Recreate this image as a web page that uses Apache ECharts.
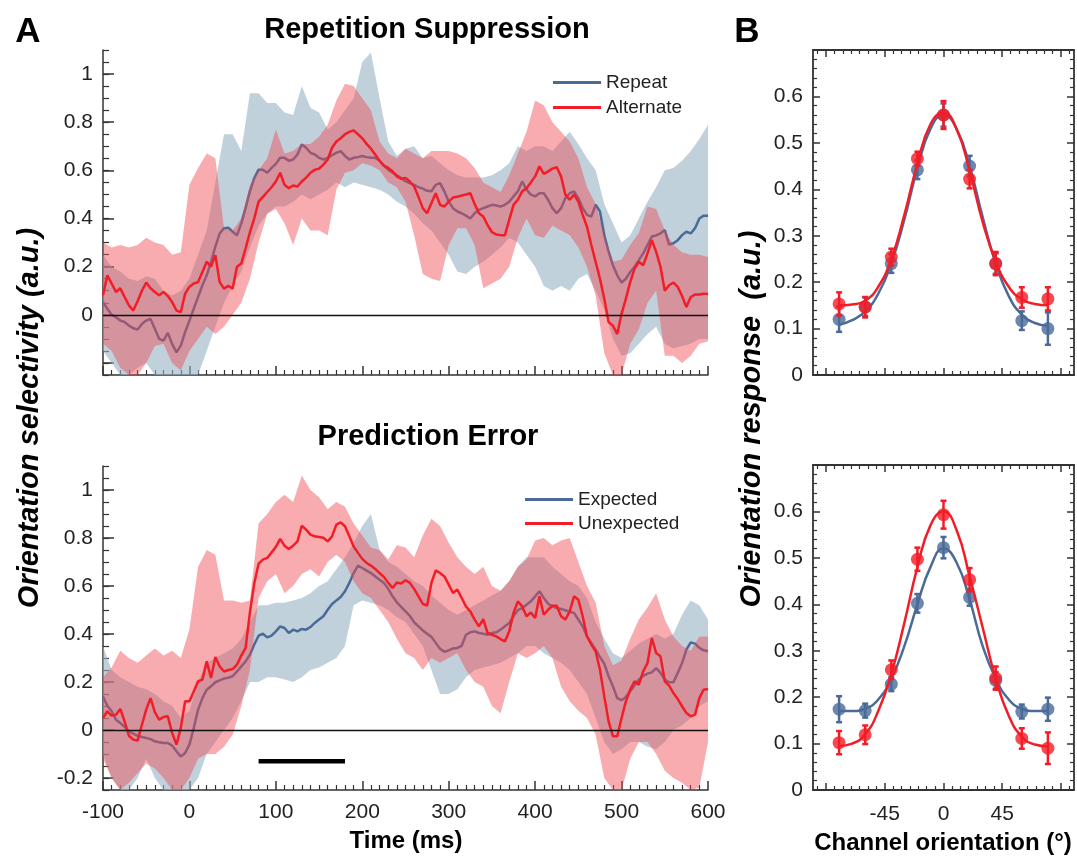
<!DOCTYPE html>
<html>
<head>
<meta charset="utf-8">
<title>Orientation selectivity</title>
<script src="https://cdn.jsdelivr.net/npm/echarts@6.0.0/dist/echarts.min.js"></script>
<style>
  html, body { margin: 0; padding: 0; background: #fff; }
  #chart { width: 1077px; height: 857px; }
</style>
</head>
<body>
<div id="chart"></div>
<script>
// ---------- panel A: time courses ----------
const lineTimes = [];
for (let t = -100; t <= 600; t += 5) lineTimes.push(t);
const bandTimes = [];
for (let t = -100; t <= 600; t += 10) bandTimes.push(t);

const repeatMean = [
  0.053, 0.025, 0.0, -0.01, -0.024, -0.03, -0.045, -0.056, -0.061, -0.038,
  -0.024, -0.017, -0.058, -0.10, -0.107, -0.075, -0.121, -0.156, -0.128, -0.072,
  -0.024, 0.025, 0.074, 0.123, 0.164, 0.22, 0.283, 0.338, 0.36, 0.362,
  0.345, 0.33, 0.38, 0.443, 0.513, 0.568, 0.603, 0.603, 0.59, 0.61,
  0.627, 0.652, 0.652, 0.64, 0.645, 0.666, 0.708, 0.694, 0.673, 0.666,
  0.652, 0.645, 0.652, 0.663, 0.673, 0.68, 0.66, 0.645, 0.652, 0.655,
  0.66, 0.655, 0.652, 0.652, 0.64, 0.62, 0.603, 0.59, 0.58, 0.568,
  0.554, 0.547, 0.54, 0.53, 0.524, 0.515, 0.513, 0.54, 0.547, 0.513,
  0.47, 0.443, 0.429, 0.422, 0.412, 0.40, 0.422, 0.436, 0.443, 0.45,
  0.457, 0.454, 0.45, 0.457, 0.47, 0.492, 0.513, 0.554, 0.52, 0.499,
  0.492, 0.505, 0.505, 0.478, 0.443, 0.422, 0.443, 0.485, 0.505, 0.513,
  0.485, 0.443, 0.415, 0.408, 0.457, 0.429, 0.331, 0.262, 0.206, 0.164,
  0.134, 0.15, 0.178, 0.20, 0.227, 0.255, 0.29, 0.325, 0.33, 0.338,
  0.352, 0.292, 0.297, 0.31, 0.331, 0.345, 0.338, 0.36, 0.40, 0.412,
  0.412
];
const alternateMean = [
  0.081, 0.164, 0.13, 0.095, 0.11, 0.074, 0.039, 0.018, 0.056, 0.10,
  0.134, 0.11, 0.095, 0.081, 0.095, 0.078, 0.053, 0.018, 0.011, 0.088,
  0.116, 0.13, 0.136, 0.178, 0.22, 0.20, 0.248, 0.136, 0.109, 0.12,
  0.109, 0.20, 0.213, 0.276, 0.343, 0.40, 0.47, 0.49, 0.51, 0.53,
  0.554, 0.59, 0.54, 0.526, 0.537, 0.533, 0.554, 0.57, 0.59, 0.603,
  0.607, 0.624, 0.645, 0.694, 0.72, 0.733, 0.75, 0.76, 0.766, 0.75,
  0.733, 0.71, 0.69, 0.666, 0.64, 0.62, 0.61, 0.596, 0.575, 0.565,
  0.568, 0.554, 0.533, 0.49, 0.443, 0.422, 0.464, 0.505, 0.457, 0.45,
  0.47, 0.487, 0.49, 0.496, 0.50, 0.505, 0.46, 0.422, 0.408, 0.373,
  0.343, 0.334, 0.331, 0.331, 0.394, 0.457, 0.478, 0.513, 0.526, 0.55,
  0.575, 0.617, 0.585, 0.596, 0.607, 0.613, 0.575, 0.499, 0.478, 0.499,
  0.47, 0.415, 0.366, 0.29, 0.22, 0.15, 0.067, -0.03, -0.045, -0.08,
  0.004, 0.067, 0.136, 0.192, 0.22, 0.206, 0.255, 0.31, 0.262, 0.20,
  0.10, 0.123, 0.134, 0.116, 0.078, 0.032, 0.074, 0.084, 0.084, 0.088,
  0.086
];
const expectedMean = [
  0.14, 0.101, 0.078, 0.043, 0.029, 0.013, -0.006, -0.015, -0.024, -0.029,
  -0.033, -0.038, -0.047, -0.051, -0.054, -0.054, -0.065, -0.089, -0.11, -0.096,
  -0.061, 0.008, 0.085, 0.133, 0.168, 0.182, 0.199, 0.207, 0.214, 0.218,
  0.224, 0.244, 0.265, 0.286, 0.314, 0.356, 0.393, 0.401, 0.386, 0.393,
  0.411, 0.432, 0.425, 0.404, 0.418, 0.411, 0.421, 0.418, 0.429, 0.446,
  0.46, 0.474, 0.501, 0.525, 0.54, 0.554, 0.578, 0.613, 0.654, 0.685,
  0.675, 0.664, 0.654, 0.64, 0.626, 0.613, 0.588, 0.557, 0.532, 0.513,
  0.494, 0.476, 0.449, 0.432, 0.415, 0.401, 0.388, 0.363, 0.338, 0.326,
  0.332, 0.34, 0.342, 0.351, 0.397, 0.407, 0.411, 0.404, 0.401, 0.397,
  0.404, 0.407, 0.418, 0.432, 0.446, 0.474, 0.499, 0.508, 0.522, 0.536,
  0.557, 0.578, 0.55, 0.526, 0.515, 0.508, 0.504, 0.499, 0.492, 0.488,
  0.46, 0.432, 0.39, 0.363, 0.335, 0.304, 0.276, 0.224, 0.182, 0.133,
  0.124, 0.138, 0.161, 0.185, 0.21, 0.226, 0.235, 0.24, 0.258, 0.238,
  0.21, 0.199, 0.199, 0.238, 0.279, 0.335, 0.365, 0.36, 0.342, 0.332,
  0.328
];
const unexpectedMean = [
  0.05, 0.078, 0.06, 0.064, 0.088, 0.036, -0.024, -0.04, -0.044, 0.022,
  0.085, 0.133, 0.074, 0.043, 0.054, 0.057, -0.012, -0.061, 0.008, 0.12,
  0.12, 0.16, 0.203, 0.21, 0.286, 0.217, 0.304, 0.265, 0.244, 0.25,
  0.254, 0.272, 0.31, 0.342, 0.49, 0.61, 0.693, 0.71, 0.717, 0.74,
  0.763, 0.796, 0.768, 0.754, 0.768, 0.786, 0.851, 0.835, 0.814, 0.807,
  0.804, 0.801, 0.786, 0.807, 0.856, 0.865, 0.849, 0.807, 0.765, 0.738,
  0.713, 0.696, 0.685, 0.671, 0.654, 0.638, 0.613, 0.592, 0.615, 0.61,
  0.624, 0.613, 0.588, 0.557, 0.526, 0.518, 0.613, 0.665, 0.654, 0.64,
  0.606, 0.571, 0.585, 0.55, 0.515, 0.494, 0.46, 0.432, 0.462, 0.404,
  0.397, 0.39, 0.379, 0.369, 0.411, 0.488, 0.536, 0.515, 0.474, 0.49,
  0.467, 0.557, 0.48, 0.501, 0.518, 0.518, 0.474, 0.46, 0.494, 0.557,
  0.543, 0.474, 0.39, 0.356, 0.328, 0.251, 0.14, 0.036, -0.026, -0.026,
  0.05, 0.12, 0.168, 0.203, 0.189, 0.244, 0.279, 0.383, 0.321, 0.307,
  0.203, 0.185, 0.154, 0.129, 0.099, 0.071, 0.057, 0.064, 0.133, 0.168,
  0.171
];

// error bands (10 ms steps)
const repeatUpper = [
  0.25, 0.2, 0.18, 0.15, 0.14, 0.16, 0.15, 0.1, 0.08, 0.1,
  0.15, 0.25, 0.35, 0.55, 0.75, 0.75, 0.68, 0.92, 0.92, 0.88,
  0.88, 0.84, 0.83, 0.95, 0.86, 0.84, 0.77, 0.8, 0.85, 0.9,
  1.05, 1.09, 0.9, 0.72, 0.66, 0.69, 0.7, 0.65, 0.66, 0.63,
  0.6, 0.58, 0.57, 0.57, 0.57, 0.58, 0.6, 0.63, 0.7, 0.68,
  0.7, 0.7, 0.68, 0.72, 0.76, 0.71, 0.65, 0.6, 0.46, 0.38,
  0.3, 0.33, 0.4, 0.47, 0.53, 0.6, 0.61, 0.64, 0.68, 0.73,
  0.79
];
const repeatLower = [
  -0.15, -0.2, -0.25, -0.25, -0.22, -0.2, -0.25, -0.25, -0.25, -0.25,
  -0.25, -0.25, -0.15, -0.05, 0.05, 0.12, 0.18, 0.28, 0.37, 0.42,
  0.45, 0.45, 0.47, 0.5, 0.48, 0.5, 0.52, 0.55, 0.53, 0.55,
  0.54, 0.53, 0.52, 0.5, 0.47, 0.45, 0.42, 0.38, 0.35, 0.3,
  0.25, 0.18, 0.17, 0.2, 0.22, 0.25, 0.28, 0.32, 0.3, 0.25,
  0.2, 0.12, 0.1, 0.12, 0.1, 0.15, 0.17, 0.1, 0.02, -0.1,
  -0.17, -0.16, -0.12, -0.08, -0.05, -0.12, -0.14, -0.13, -0.12, -0.1,
  -0.1
];
const alternateUpper = [
  0.30, 0.28, 0.29, 0.28, 0.29, 0.32, 0.30, 0.29, 0.25, 0.26,
  0.54, 0.61, 0.67, 0.65, 0.36, 0.35, 0.40, 0.54, 0.60, 0.65,
  0.77, 0.67, 0.68, 0.71, 0.71, 0.74, 0.79, 0.89, 0.96, 0.95,
  0.90, 0.85, 0.72, 0.67, 0.65, 0.69, 0.67, 0.65, 0.68, 0.68,
  0.68, 0.67, 0.65, 0.61, 0.55, 0.53, 0.51, 0.58, 0.67, 0.76,
  0.89, 0.87, 0.80, 0.76, 0.72, 0.65, 0.53, 0.46, 0.33, 0.22,
  0.23, 0.29, 0.34, 0.45, 0.44, 0.35, 0.29, 0.26, 0.25, 0.25,
  0.24
];
const alternateLower = [
  -0.12, -0.15, -0.22, -0.25, -0.25, -0.2, -0.13, -0.12, -0.2, -0.23,
  -0.15, -0.1, -0.05, -0.08, -0.05, 0.0, 0.05, 0.15, 0.3, 0.42,
  0.44, 0.38, 0.29, 0.4, 0.35, 0.35, 0.33, 0.52, 0.59, 0.6,
  0.63, 0.62, 0.6, 0.55, 0.53, 0.47, 0.33, 0.17, 0.15, 0.14,
  0.29, 0.36, 0.36, 0.29, 0.11, 0.13, 0.15, 0.2, 0.32, 0.4,
  0.33, 0.32, 0.37, 0.35, 0.33, 0.28, 0.2, 0.08, -0.16, -0.25,
  -0.25, -0.12, -0.06, 0.05, 0.1, -0.17, -0.17, -0.2, -0.17, -0.12,
  -0.11
];
const expectedUpper = [
  0.35, 0.25, 0.22, 0.2, 0.18, 0.17, 0.15, 0.12, 0.1, 0.05,
  0.08, 0.2, 0.28, 0.3, 0.32, 0.34, 0.38, 0.45, 0.52, 0.52,
  0.53, 0.53, 0.54, 0.55, 0.57, 0.6, 0.62, 0.67, 0.72, 0.78,
  0.85, 0.9, 0.75, 0.7, 0.68, 0.65, 0.62, 0.6, 0.56, 0.53,
  0.5, 0.48, 0.5, 0.52, 0.54, 0.56, 0.58, 0.62, 0.68, 0.72,
  0.72, 0.72, 0.68, 0.65, 0.62, 0.6, 0.55, 0.45, 0.38, 0.32,
  0.3, 0.33, 0.36, 0.38, 0.4, 0.38, 0.4, 0.48, 0.54, 0.52,
  0.46
];
const expectedLower = [
  -0.1, -0.2, -0.25, -0.25, -0.2, -0.12, -0.2, -0.25, -0.25, -0.25,
  -0.25, -0.2, -0.1, -0.05, 0.0, 0.05, 0.12, 0.2, 0.2, 0.22,
  0.22, 0.21, 0.2, 0.22, 0.25, 0.26, 0.28, 0.3, 0.35, 0.52,
  0.54, 0.53, 0.52, 0.5, 0.47, 0.45, 0.4, 0.35, 0.25, 0.15,
  0.15, 0.17, 0.22, 0.25, 0.26, 0.27, 0.28, 0.3, 0.32, 0.35,
  0.35, 0.32, 0.3, 0.28, 0.25, 0.2, 0.15, 0.05, -0.05, -0.1,
  -0.08, -0.05, -0.05, -0.07, -0.08, -0.05, 0.0, 0.02, 0.05, 0.1,
  0.12
];
const unexpectedUpper = [
  0.22, 0.26, 0.33, 0.30, 0.28, 0.31, 0.34, 0.31, 0.33, 0.30,
  0.42, 0.68, 0.75, 0.73, 0.54, 0.54, 0.53, 0.54, 0.86, 0.90,
  0.95, 0.98, 0.95, 1.06, 1.0, 0.97, 0.92, 0.95, 0.93, 0.86,
  0.81, 0.76, 0.75, 0.71, 0.77, 0.76, 0.72, 0.81, 0.88, 0.85,
  0.78, 0.72, 0.68, 0.65, 0.68, 0.60, 0.58, 0.62, 0.68, 0.71,
  0.79, 0.80, 0.77, 0.79, 0.80, 0.70, 0.60, 0.53, 0.35, 0.27,
  0.29, 0.38, 0.46, 0.51, 0.57, 0.46, 0.39, 0.35, 0.33, 0.39,
  0.39
];
const unexpectedLower = [
  -0.12, -0.2, -0.25, -0.22, -0.18, -0.14, -0.16, -0.2, -0.25, -0.25,
  -0.2, -0.12, -0.1, -0.1, -0.07, -0.02, 0.1, 0.25, 0.55, 0.62,
  0.65, 0.57, 0.6, 0.65, 0.67, 0.64, 0.7, 0.73, 0.7, 0.62,
  0.57, 0.55, 0.5, 0.45, 0.38, 0.32, 0.3, 0.25, 0.3, 0.28,
  0.3, 0.32, 0.25, 0.2, 0.18, 0.1, 0.07, 0.2, 0.32, 0.3,
  0.32, 0.35, 0.3, 0.18, 0.12, 0.08, 0.05, -0.02, -0.2, -0.25,
  -0.25, -0.12, -0.05, -0.05, -0.1, -0.17, -0.2, -0.22, -0.25, -0.24,
  -0.05
];

// significance bar (ms) and its height
const sigBar = [80, 180];
const sigBarLevel = -0.13;

// ---------- panel B: channel responses ----------
const channels = [-80, -60, -40, -20, 0, 20, 40, 60, 80];
const repeatResp = [0.12, 0.147, 0.24, 0.442, 0.56, 0.45, 0.24, 0.117, 0.10];
const repeatErr = [0.027, 0.02, 0.02, 0.02, 0.025, 0.022, 0.022, 0.02, 0.035];
const alternateResp = [0.153, 0.146, 0.254, 0.466, 0.56, 0.422, 0.24, 0.167, 0.164];
const alternateErr = [0.025, 0.022, 0.018, 0.015, 0.03, 0.02, 0.025, 0.022, 0.025];
const expectedResp = [0.174, 0.171, 0.228, 0.402, 0.522, 0.415, 0.236, 0.169, 0.174];
const expectedErr = [0.028, 0.015, 0.015, 0.02, 0.023, 0.018, 0.018, 0.015, 0.025];
const unexpectedResp = [0.102, 0.119, 0.259, 0.497, 0.593, 0.453, 0.241, 0.111, 0.09];
const unexpectedErr = [0.025, 0.02, 0.02, 0.025, 0.03, 0.025, 0.025, 0.022, 0.034];

const fitAngles = [-80, -70, -60, -50, -40, -30, -20, -10, 0, 10, 20, 30, 40, 50, 60, 70, 80];
const repeatFit = [0.108, 0.118, 0.137, 0.175, 0.24, 0.335, 0.445, 0.53, 0.56, 0.53, 0.45, 0.34, 0.24, 0.17, 0.13, 0.112, 0.106];
const alternateFit = [0.15, 0.152, 0.16, 0.19, 0.25, 0.345, 0.455, 0.54, 0.565, 0.53, 0.44, 0.33, 0.245, 0.19, 0.163, 0.153, 0.15];
const expectedFit = [0.17, 0.17, 0.175, 0.195, 0.24, 0.31, 0.40, 0.48, 0.52, 0.49, 0.41, 0.31, 0.24, 0.195, 0.175, 0.17, 0.17];
const unexpectedFit = [0.095, 0.10, 0.12, 0.17, 0.25, 0.36, 0.48, 0.57, 0.60, 0.56, 0.46, 0.35, 0.24, 0.16, 0.115, 0.098, 0.094];

// ---------- styling ----------
const FONT = '"Liberation Sans", Arial, Helvetica, sans-serif';
const AX = '#333';
const BLUE = '#4a6a98';
const RED = '#f31d27';
const BLUE_BAND = 'rgba(150,178,196,0.6)';
const RED_BAND = 'rgba(240,70,80,0.45)';

const pair = (xs, ys) => xs.map((x, i) => [x, ys[i]]);

// tick helpers
const aMajorY = [-0.2, 0, 0.2, 0.4, 0.6, 0.8, 1];
const bMinorX = [];
for (let k = -15; k <= 15; k++) if (k % 7 !== 0) bMinorX.push(k * 45 / 7);
const bMinorY = [];
for (let k = 1; k < 35; k++) if (k % 5 !== 0) bMinorY.push(k / 50);

function bandSeries(xi, yi, upper, lower, color, z) {
  return {
    type: 'custom',
    xAxisIndex: xi,
    yAxisIndex: yi,
    silent: true,
    z,
    data: [[bandTimes[0], upper[0]]],
    renderItem: (params, api) => {
      const top = bandTimes.map((t, i) => api.coord([t, upper[i]]));
      const bot = bandTimes.map((t, i) => api.coord([t, lower[i]])).reverse();
      return { type: 'polygon', shape: { points: top.concat(bot) }, style: { fill: color } };
    }
  };
}

function meanLine(name, xi, yi, vals, color, z, extra) {
  return Object.assign({
    name, type: 'line', xAxisIndex: xi, yAxisIndex: yi, z,
    data: pair(lineTimes, vals), showSymbol: false, symbol: 'none',
    lineStyle: { color, width: 2.5 }, itemStyle: { color }, silent: true
  }, extra || {});
}

const zeroLine = {
  silent: true, symbol: 'none', label: { show: false },
  lineStyle: { color: '#111', width: 1.3, type: 'solid' },
  data: [{ yAxis: 0 }]
};

function errSeries(xi, yi, resp, err, color, z) {
  return {
    type: 'custom', xAxisIndex: xi, yAxisIndex: yi, silent: true, z,
    data: channels.map((c, i) => [c, resp[i] - err[i], resp[i] + err[i]]),
    encode: { x: 0, y: [1, 2] },
    renderItem: (params, api) => {
      const x = api.value(0);
      const lo = api.coord([x, api.value(1)]);
      const hi = api.coord([x, api.value(2)]);
      const w = 3;
      const st = { stroke: color, lineWidth: 2.5 };
      return {
        type: 'group', children: [
          { type: 'line', shape: { x1: lo[0], y1: lo[1], x2: hi[0], y2: hi[1] }, style: st },
          { type: 'line', shape: { x1: lo[0] - w, y1: lo[1], x2: lo[0] + w, y2: lo[1] }, style: st },
          { type: 'line', shape: { x1: hi[0] - w, y1: hi[1], x2: hi[0] + w, y2: hi[1] }, style: st }
        ]
      };
    }
  };
}

function tuning(name, xi, yi, fit, resp, err, color, z) {
  return [
    { name: name + ' fit', type: 'line', xAxisIndex: xi, yAxisIndex: yi, data: pair(fitAngles, fit), z,
      smooth: 0.5, symbol: 'none', lineStyle: { color, width: 2.5 }, silent: true },
    errSeries(xi, yi, resp, err, color, z),
    { name: name + ' points', type: 'scatter', xAxisIndex: xi, yAxisIndex: yi, data: pair(channels, resp), z,
      symbolSize: 13, itemStyle: { color }, silent: true }
  ];
}

// ---------- axes ----------
function aX(grid, labels) {
  return {
    gridIndex: grid, type: 'value', min: -100, max: 600, interval: 100,
    axisLine: { onZero: false, lineStyle: { color: AX, width: 1.5 } },
    axisTick: { inside: true, length: 9, lineStyle: { color: AX, width: 1.5 } },
    minorTick: { show: true, splitNumber: 10, length: 5, lineStyle: { color: AX, width: 1.2 } },
    splitLine: { show: false }, minorSplitLine: { show: false },
    axisLabel: { show: labels, fontSize: 21, color: '#222', margin: 12, fontFamily: FONT }
  };
}
function aY(grid, labelVals) {
  return [{
    gridIndex: grid, type: 'value', min: -0.25, max: 1.1, interval: 0.05,
    axisLine: { show: true, onZero: false, lineStyle: { color: AX, width: 1.5 } },
    axisTick: { inside: true, length: 6, lineStyle: { color: AX, width: 1.2 } },
    axisLabel: { customValues: labelVals, formatter: v => String(+(+v).toFixed(1)),
      fontSize: 21, color: '#222', margin: 10, fontFamily: FONT },
    splitLine: { show: false }
  }, {
    gridIndex: grid, type: 'value', min: -0.25, max: 1.1, position: 'left',
    axisLine: { show: false, onZero: false },
    axisTick: { customValues: aMajorY, inside: true, length: 11, lineStyle: { color: AX, width: 1.5 } },
    axisLabel: { show: false }, splitLine: { show: false }
  }];
}
function bX(grid, pos, labels) {
  return [{
    gridIndex: grid, type: 'value', min: -100, max: 100, position: pos,
    axisLine: { show: true, onZero: false, lineStyle: { color: AX, width: 1.8 } },
    axisTick: { customValues: [-90, -45, 0, 45, 90], inside: true, length: 7, lineStyle: { color: AX, width: 1.5 } },
    axisLabel: { show: labels, customValues: [-45, 0, 45], fontSize: 21, color: '#222', margin: 14, fontFamily: FONT },
    splitLine: { show: false }
  }, {
    gridIndex: grid, type: 'value', min: -100, max: 100, position: pos,
    axisLine: { show: false, onZero: false },
    axisTick: { customValues: bMinorX, inside: true, length: 4, lineStyle: { color: AX, width: 1.2 } },
    axisLabel: { show: false }, splitLine: { show: false }
  }];
}
function bY(grid, pos, labels) {
  return [{
    gridIndex: grid, type: 'value', min: 0, max: 0.7, interval: 0.1, position: pos,
    axisLine: { show: true, onZero: false, lineStyle: { color: AX, width: 1.8 } },
    axisTick: { inside: true, length: 7, lineStyle: { color: AX, width: 1.5 } },
    axisLabel: { show: labels, customValues: [0, 0.1, 0.2, 0.3, 0.4, 0.5, 0.6],
      formatter: v => String(+(+v).toFixed(1)), fontSize: 21, color: '#222', margin: 10, fontFamily: FONT },
    splitLine: { show: false }
  }, {
    gridIndex: grid, type: 'value', min: 0, max: 0.7, position: pos,
    axisLine: { show: false, onZero: false },
    axisTick: { customValues: bMinorY, inside: true, length: 4, lineStyle: { color: AX, width: 1.2 } },
    axisLabel: { show: false }, splitLine: { show: false }
  }];
}

// xAxis indices: 0 A-top, 1 A-bottom, 2-5 B-top (bottom, bottom minor, top, top minor), 6-9 B-bottom
const xAxes = [aX(0, false), aX(1, true)]
  .concat(bX(2, 'bottom', false), bX(2, 'top', false), bX(3, 'bottom', true), bX(3, 'top', false));
// yAxis indices: 0-1 A-top, 2-3 A-bottom, 4-7 B-top (left, left minor, right, right minor), 8-11 B-bottom
const yAxes = aY(0, [0, 0.2, 0.4, 0.6, 0.8, 1])
  .concat(aY(1, [-0.2, 0, 0.2, 0.4, 0.6, 0.8, 1]), bY(2, 'left', true), bY(2, 'right', false),
          bY(3, 'left', true), bY(3, 'right', false));

function label(text, x, y, size, opts, rotation) {
  return {
    type: 'text', x, y, rotation: rotation || 0, silent: true,
    style: Object.assign({ text, font: 'bold ' + size + 'px ' + FONT, fill: '#000',
      align: 'center', verticalAlign: 'middle' }, opts || {})
  };
}

const legendText = { fontSize: 19, color: '#222', fontFamily: FONT };

const chart = echarts.init(document.getElementById('chart'), null, { renderer: 'canvas' });
chart.setOption({
  animation: false,
  backgroundColor: '#fff',
  textStyle: { fontFamily: FONT },
  grid: [
    { left: 103, top: 50, width: 605, height: 325 },
    { left: 103, top: 466, width: 605, height: 324 },
    { left: 813, top: 50, width: 261, height: 325 },
    { left: 813, top: 465, width: 261, height: 325 }
  ],
  xAxis: xAxes,
  yAxis: yAxes,
  legend: [
    { data: ['Repeat', 'Alternate'], orient: 'vertical', left: 553, top: 73, padding: 0,
      itemWidth: 48, itemHeight: 3, itemGap: 6, icon: 'rect', selectedMode: false, textStyle: legendText },
    { data: ['Expected', 'Unexpected'], orient: 'vertical', left: 525, top: 490, padding: 0,
      itemWidth: 48, itemHeight: 3, itemGap: 5, icon: 'rect', selectedMode: false, textStyle: legendText }
  ],
  graphic: [
    label('A', 28, 32, 35),
    label('B', 747, 32, 35),
    label('Repetition Suppression', 427, 30, 29),
    label('Prediction Error', 428, 437, 29),
    label('Orientation selectivity (a.u.)', 30, 418, 29, { font: 'italic bold 29px ' + FONT }, Math.PI / 2),
    label('Orientation response  (a.u.)', 752, 419, 29, { font: 'italic bold 29px ' + FONT }, Math.PI / 2),
    label('Time (ms)', 406, 841, 24),
    label('Channel orientation (\u00b0)', 943, 843, 24)
  ],
  series: [
    // A top: repetition suppression
    bandSeries(0, 0, repeatUpper, repeatLower, BLUE_BAND, 1),
    meanLine('Repeat', 0, 0, repeatMean, BLUE, 2),
    bandSeries(0, 0, alternateUpper, alternateLower, RED_BAND, 3),
    meanLine('Alternate', 0, 0, alternateMean, RED, 4, { markLine: zeroLine }),
    // A bottom: prediction error
    bandSeries(1, 2, expectedUpper, expectedLower, BLUE_BAND, 1),
    meanLine('Expected', 1, 2, expectedMean, BLUE, 2),
    bandSeries(1, 2, unexpectedUpper, unexpectedLower, RED_BAND, 3),
    meanLine('Unexpected', 1, 2, unexpectedMean, RED, 4, { markLine: zeroLine }),
    { name: 'window', type: 'line', xAxisIndex: 1, yAxisIndex: 2, data: sigBar.map(t => [t, sigBarLevel]), z: 5,
      symbol: 'none', lineStyle: { color: '#000', width: 4.5 }, silent: true }
  ]
    .concat(tuning('Repeat B', 2, 4, repeatFit, repeatResp, repeatErr, BLUE, 2))
    .concat(tuning('Alternate B', 2, 4, alternateFit, alternateResp, alternateErr, RED, 3))
    .concat(tuning('Expected B', 6, 8, expectedFit, expectedResp, expectedErr, BLUE, 2))
    .concat(tuning('Unexpected B', 6, 8, unexpectedFit, unexpectedResp, unexpectedErr, RED, 3))
});
</script>
</body>
</html>
